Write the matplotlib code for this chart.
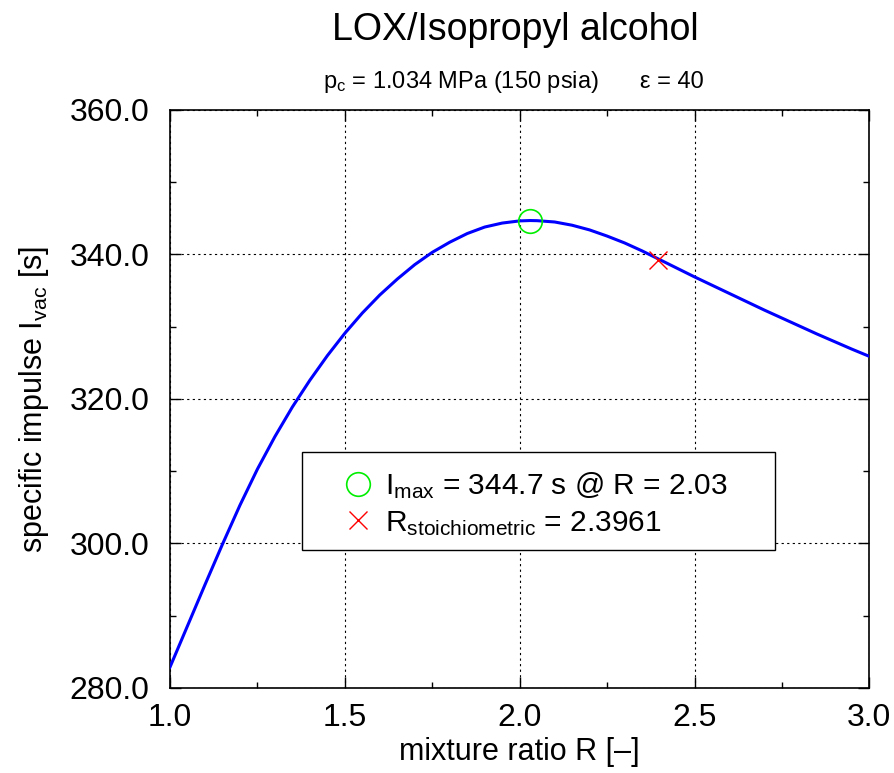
import matplotlib
matplotlib.use("Agg")
import matplotlib.pyplot as plt
from matplotlib.patches import Rectangle
from matplotlib.ticker import MultipleLocator

plt.rcParams['font.family'] = ['Liberation Sans', 'DejaVu Sans']
plt.rcParams['mathtext.fontset'] = 'custom'
plt.rcParams['mathtext.rm'] = 'Liberation Sans'
plt.rcParams['mathtext.it'] = 'Liberation Sans'
plt.rcParams['mathtext.default'] = 'regular'

# mixture ratio R and vacuum specific impulse [s]
ratio = [1.00, 1.05, 1.10, 1.15, 1.20, 1.25, 1.30, 1.35, 1.40, 1.45,
         1.50, 1.55, 1.60, 1.65, 1.70, 1.75, 1.80, 1.85, 1.90, 1.95,
         2.00, 2.03, 2.05, 2.10, 2.15, 2.20, 2.25, 2.30, 2.35, 2.40,
         2.45, 2.50, 2.55, 2.60, 2.65, 2.70, 2.75, 2.80, 2.85, 2.90,
         2.95, 3.00]
isp = [282.9, 288.6, 294.3, 299.9, 305.3, 310.3, 314.8, 318.9, 322.6, 326.0,
       329.1, 331.9, 334.4, 336.6, 338.6, 340.3, 341.7, 342.9, 343.8, 344.35,
       344.65, 344.7, 344.68, 344.5, 344.05, 343.4, 342.55, 341.6, 340.5, 339.3,
       338.1, 336.9, 335.75, 334.6, 333.45, 332.3, 331.2, 330.1, 329.0, 327.95,
       326.9, 325.9]

r_max = 2.03
isp_max = 344.7
r_stoich = 2.3961
isp_stoich = 339.3

xticks = [1.0, 1.5, 2.0, 2.5, 3.0]
yticks = [280.0, 300.0, 320.0, 340.0, 360.0]

fig = plt.figure(figsize=(8.94, 7.73), dpi=100)
ax = fig.add_axes([0.1902, 0.1100, 0.7822, 0.7477])

ax.plot(ratio, isp, color='#0000ff', lw=2.2, zorder=3)
ax.plot([r_max], [isp_max], 'o', ms=17, mfc='none', mec='#00ee00', mew=1.2,
        zorder=4, label=r'I$_{max}$ = %.1f s @ R = %.2f' % (isp_max, r_max))
ax.plot([r_stoich], [isp_stoich], 'x', ms=13, mec='#ff0000', mew=1.0,
        zorder=4, label=r'R$_{stoichiometric}$ = %.4f' % r_stoich)

ax.set_xlim(1.0, 3.0)
ax.set_ylim(280, 360)
ax.set_xticks(xticks)
ax.set_yticks(yticks)
ax.set_xticklabels(['%.1f' % v for v in xticks])
ax.set_yticklabels(['%.1f' % v for v in yticks])
ax.xaxis.set_minor_locator(MultipleLocator(0.25))
ax.yaxis.set_minor_locator(MultipleLocator(10))
ax.tick_params(which='both', direction='in', top=True, right=True,
               labelsize=23, width=1)
ax.tick_params(axis='x', pad=11)
ax.tick_params(axis='y', pad=15)
ax.tick_params(which='major', length=8)
ax.tick_params(which='minor', length=4)
ax.grid(True, which='major', color='black', ls=(0, (2, 3)), lw=0.8)
for s in ax.spines.values():
    s.set_linewidth(1.2)

ax.set_xlabel('mixture ratio R [–]', fontsize=22)
ax.set_ylabel(r'specific impulse I$_{vac}$ [s]', fontsize=22)
ax.xaxis.set_label_coords(0.5, -0.085)
ax.yaxis.set_label_coords(-0.17, 0.5)

fig.text(0.576, 0.961, 'LOX/Isopropyl alcohol', ha='center', va='center',
         fontsize=27)
fig.text(0.3613, 0.894, r'p$_c$ = 1.034 MPa (150 psia)', ha='left',
         va='center', fontsize=17)
fig.text(0.716, 0.894, 'ε = 40', ha='left', va='center', fontsize=17)

# legend frame drawn separately to get gnuplot-like padding
ax.add_patch(Rectangle((0.1888, 0.2388), 0.6763, 0.1695,
                       transform=ax.transAxes, facecolor='white',
                       edgecolor='black', lw=1.0, zorder=4.5))
leg = ax.legend(loc='center left', bbox_to_anchor=(0.2495, 0.3183),
                fontsize=21.5, frameon=False, borderpad=0,
                borderaxespad=0, handletextpad=0.45, labelspacing=0.25,
                handlelength=0.9)
leg.set_zorder(5)

fig.savefig('out.png', dpi=100)
